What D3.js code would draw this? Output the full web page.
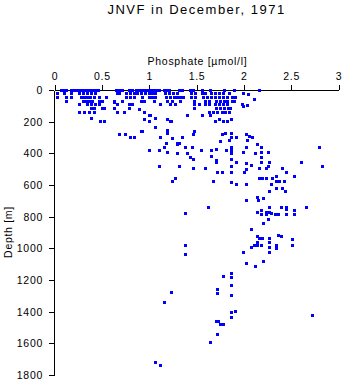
<!DOCTYPE html>
<html>
<head>
<meta charset="utf-8">
<script src="https://cdn.jsdelivr.net/npm/d3@7"></script>
<style>
  html, body { margin: 0; padding: 0; background: #fff; }
  svg { display: block; }
  text { font-family: "Liberation Sans", Arial, Helvetica, sans-serif; fill: #000; }
</style>
</head>
<body>
<div id="chart"></div>
<script>
// Phosphate profiles, JNVF cruise, December 1971: [phosphate µmol/l, depth m]
const surfaceLayer = [
  [0.07,0],[0.11,0],[0.13,0],[0.18,0],[0.21,0],[0.24,0],[0.27,0],[0.31,0],[0.34,0],[0.37,0],
  [0.40,0],[0.43,0],[0.46,0],[0.66,0],[0.69,0],[0.72,0],[0.79,0],[0.82,0],[0.87,0],[0.90,0],
  [0.93,0],[0.96,0],[0.99,0],[1.02,0],[1.05,0],[1.08,0],[1.11,0],[1.16,0],[1.19,0],[1.22,0],
  [1.32,0],[1.35,0],[1.44,0],[1.47,0],[1.56,0],[1.65,0],[1.80,0],[1.90,0],[2.17,0],
  [0.03,25],[0.11,25],[0.18,25],[0.26,25],[0.31,25],[0.35,25],[0.39,25],[0.43,25],[0.67,25],
  [0.69,25],[0.76,25],[0.80,25],[0.85,25],[0.88,25],[0.92,25],[0.96,25],
  [1.00,20],[1.03,20],[1.07,20],[1.17,20],[1.22,20],[1.26,20],[1.30,20],[1.45,20],[1.49,20],
  [1.56,20],[1.60,20],[1.66,20],[1.70,20],[1.74,20],[1.79,20],[1.85,20],[2.00,22],[2.05,30],
  [0.03,50],[0.13,50],[0.18,50],[0.29,50],[0.32,50],[0.35,50],[0.38,50],[0.42,50],[0.48,50],
  [0.55,50],[0.76,50],[0.80,50],[0.85,50],[0.93,50],[1.00,50],[1.04,50],[1.07,50],[1.18,50],
  [1.23,50],[1.27,50],[1.30,50],[1.33,50],[1.36,50],[1.45,50],[1.49,50],[1.57,50],[1.62,50],
  [1.66,50],[1.70,50],[1.74,50],[1.79,50],[1.83,50],[1.88,50],[1.91,50],[2.11,57]
];

const thermocline = [
  [0.13,70],[0.31,70],[0.34,70],[0.37,70],[0.40,70],[0.48,70],[0.51,70],[0.63,70],[0.72,70],
  [0.92,70],[0.95,70],[1.06,70],[1.19,70],[1.25,70],[1.33,70],[1.48,70],[1.60,70],[1.64,70],
  [1.71,70],[1.75,70],[1.80,70],[1.83,70],[1.88,70],[1.90,70],
  [0.26,90],[0.35,90],[0.39,90],[0.43,90],[0.48,90],[0.67,90],[0.79,90],[0.82,90],[1.12,90],
  [1.23,90],[1.28,90],[1.48,90],[1.53,90],[1.59,90],[1.64,90],[1.70,90],[1.74,90],[1.79,90],
  [1.83,90],[1.99,90],[2.04,95],[0.63,82],
  [0.39,115],[0.42,115],[0.51,115],[0.53,115],[0.63,114],[0.79,114],[1.48,115],[1.71,118],
  [1.75,118],[1.80,118],[1.84,118],[1.86,118],[0.90,126],[2.00,107],
  [0.26,139],[0.32,139],[0.37,142],[0.42,139],[0.67,139],[0.74,139],[0.95,145],[1.64,145],
  [1.68,145],[1.72,145],[1.77,145],[1.81,145],[1.85,145],[1.00,158],
  [0.39,183],[0.49,196],[0.53,202],[0.95,189],[1.00,196],[1.07,183],[1.01,164],[1.41,164],
  [1.56,158],[1.65,164],[1.19,189],[1.23,196],[1.24,202],[1.70,196],[1.74,189],[1.79,202],
  [1.83,196],[1.87,189],[1.07,234]
];

const intermediate = [
  [1.19,253],[1.19,272],[0.93,259],[0.69,278],[0.75,284],[0.80,297],[0.85,297],[1.12,297],
  [1.48,265],[1.81,272],[1.87,272],[1.77,284],[1.92,297],[2.03,284],[2.06,291],[2.09,297],
  [1.87,303],[1.75,328],[1.25,309],[1.35,297],[1.47,284],[1.32,335],[1.30,341],[1.18,335],
  [1.85,316],[2.04,316],[2.14,347],[2.19,366],[2.19,392],[2.26,392],[2.12,398],[2.03,366],
  [2.00,392],[1.87,360],[1.87,379],[1.87,398],[1.82,379],[1.71,373],[1.66,379],[1.55,385],
  [1.46,360],[1.40,398],[1.30,398],[2.80,366],[1.00,379],[1.11,385],[1.16,366],[1.19,392],
  [1.30,347],[1.38,360],[1.44,429],[1.47,442],[1.66,423],[1.71,448],[1.71,461],[1.87,436],
  [1.92,461],[2.03,467],[2.08,474],[2.19,429],[2.19,461],[2.27,461],[2.26,486],[2.24,493],
  [2.17,493],[2.41,493],[2.61,461],[2.83,480],[1.47,493],[1.59,493],[1.87,486],[1.87,524],
  [1.72,518],[1.77,524],[2.01,518],[2.03,505],[2.45,524],[1.11,486],[1.32,480],[1.28,562],
  [1.25,581],[2.17,562],[2.20,556],[2.24,556],[2.30,556],[2.35,549],[2.35,581],[2.29,594],
  [2.38,581],[2.34,619],[2.41,619],[2.44,638],[2.53,549],[2.43,581],[2.27,644],[1.68,575],
  [1.87,587],[1.92,594],[2.03,594],[2.14,676],[2.21,688],[2.16,701],[2.03,701],[0.92,265]
];

const deepLayer = [
  [1.63,745],[2.27,739],[2.27,771],[2.40,745],[2.45,739],[2.45,752],[2.53,758],[2.66,739],
  [2.14,771],[2.19,758],[2.19,789],[2.24,771],[2.24,789],[2.29,777],[2.33,789],[2.37,789],
  [2.45,789],[2.53,789],[1.38,777],[2.26,821],[2.21,846],[2.08,884],[2.14,928],[2.17,935],
  [2.20,935],[2.27,941],[2.27,960],[2.37,916],[2.40,928],[2.51,947],[2.51,985],[2.14,966],
  [2.14,979],[2.11,985],[2.08,992],[2.19,985],[2.27,992],[2.35,985],[2.35,1004],[2.27,1029],
  [2.00,1029],[1.38,979],[1.38,1036],[2.03,1093],[2.21,1086],[2.12,1112],[1.87,1162],
  [1.87,1187],[1.87,1232],[1.87,1301],[1.79,1181],[1.72,1257],[1.72,1288],[1.24,1276],
  [1.16,1339],[1.91,1396],[1.87,1408],[1.87,1434],[2.73,1427],[1.71,1465],[1.73,1459],
  [1.75,1484],[1.79,1478],[1.72,1547],[1.65,1592],[1.07,1724],[1.12,1737]
];

const phosphateTicks = [0, 0.5, 1, 1.5, 2, 2.5, 3];
const depthTicks = [0, 200, 400, 600, 800, 1000, 1200, 1400, 1600, 1800];

const titleText = "JNVF in December, 1971";
const xLabel = "Phosphate [\u00b5mol/l]";
const yLabel = "Depth [m]";

const W = 345, H = 384;
const svg = d3.select("#chart").append("svg").attr("width", W).attr("height", H);

const x = d3.scaleLinear().domain([0, 3]).range([54.5, 338.5]);
const y = d3.scaleLinear().domain([0, 1800]).range([90, 375]);

const fontSize = "10.5px";
const spacing = "0.7px";

// top axis (phosphate)
const xAxis = svg.append("g")
  .attr("transform", "translate(0,90)")
  .call(d3.axisTop(x).tickValues(phosphateTicks).tickFormat(d3.format("~g"))
    .tickSize(5).tickSizeOuter(0).tickPadding(5));

// left axis (depth)
const yAxis = svg.append("g")
  .attr("transform", "translate(54,0)")
  .call(d3.axisLeft(y).tickValues(depthTicks).tickFormat(d3.format("d"))
    .tickSize(5).tickSizeOuter(0).tickPadding(6));

[xAxis, yAxis].forEach(g => {
  g.selectAll("path.domain").attr("stroke", "#000").attr("shape-rendering", "crispEdges");
  g.selectAll(".tick line").attr("stroke", "#000").attr("shape-rendering", "crispEdges");
  g.selectAll(".tick text")
    .style("font-family", '"Liberation Sans", Arial, sans-serif')
    .style("font-size", fontSize)
    .style("letter-spacing", spacing)
    .attr("fill", "#111");
});

// title and axis labels
svg.append("text")
  .attr("x", 196.5).attr("y", 13.5)
  .attr("text-anchor", "middle")
  .style("font-size", "13px")
  .style("letter-spacing", "1.5px")
  .attr("fill", "#111")
  .text(titleText);

svg.append("text")
  .attr("x", 197.5).attr("y", 65)
  .attr("text-anchor", "middle")
  .style("font-size", fontSize)
  .style("letter-spacing", spacing)
  .attr("fill", "#111")
  .text(xLabel);

svg.append("text")
  .attr("transform", "translate(11.5,232) rotate(-90)")
  .attr("text-anchor", "middle")
  .style("font-size", fontSize)
  .style("letter-spacing", spacing)
  .attr("fill", "#111")
  .text(yLabel);

// sample points, small square markers
const markerSize = 3;
const samples = [].concat(surfaceLayer, thermocline, intermediate, deepLayer);
svg.append("g")
  .selectAll("rect")
  .data(samples)
  .join("rect")
  .attr("x", d => Math.round(x(d[0]) - markerSize / 2))
  .attr("y", d => Math.round(y(d[1]) - markerSize / 2))
  .attr("width", markerSize)
  .attr("height", markerSize)
  .attr("fill", "#0000ff")
  .attr("shape-rendering", "crispEdges");
</script>
</body>
</html>
